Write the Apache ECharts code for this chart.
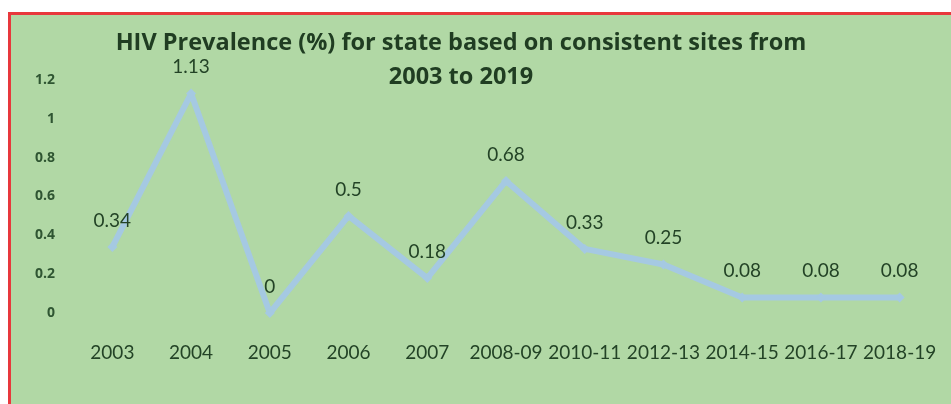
<!DOCTYPE html>
<html>
<head>
<meta charset="utf-8">
<script src="https://cdn.jsdelivr.net/npm/echarts@6/dist/echarts.min.js"></script>
<style>
html,body{margin:0;padding:0;background:#fff;}
#c{width:951px;height:404px;}
</style>
</head>
<body>
<div id="c"></div>
<script>
var categories = ['2003','2004','2005','2006','2007','2008-09','2010-11','2012-13','2014-15','2016-17','2018-19'];
var prevalence = [0.34, 1.13, 0, 0.5, 0.18, 0.68, 0.33, 0.25, 0.08, 0.08, 0.08];
var titleLines = ['HIV Prevalence (%) for state based on consistent sites from', '2003 to 2019'];

var chart = echarts.init(document.getElementById('c'));
chart.setOption({
  backgroundColor: '#ffffff',
  animation: false,
  graphic: [
    {type:'rect', z:-10, shape:{x:10, y:14.5, width:941, height:390}, style:{fill:'#b1d8a5'}},
    {type:'rect', z:-9, shape:{x:8, y:12, width:943, height:3}, style:{fill:'#e8383c'}},
    {type:'rect', z:-9, shape:{x:8, y:12, width:3, height:392}, style:{fill:'#e8383c'}}
  ],
  title: {
    text: titleLines.join('\n'),
    left: 461,
    top: 26,
    padding: 0,
    textAlign: 'center',
    textStyle: {
      fontFamily: 'Open Sans',
      fontSize: 23.5,
      fontWeight: 'bold',
      color: '#203d22',
      lineHeight: 34
    }
  },
  grid: {left: 73, right: 12, top: 80, bottom: 91},
  xAxis: {
    type: 'category',
    data: categories,
    boundaryGap: true,
    axisLine: {show: false},
    axisTick: {show: false},
    axisLabel: {
      margin: 30,
      fontFamily: 'Lato',
      fontSize: 19,
      color: '#234326',
      interval: 0
    }
  },
  yAxis: {
    type: 'value',
    min: 0,
    max: 1.2,
    interval: 0.2,
    splitLine: {show: false},
    axisLine: {show: false},
    axisTick: {show: false},
    axisLabel: {
      margin: 18,
      fontFamily: 'Open Sans',
      fontSize: 14,
      fontWeight: 'bold',
      color: '#2f5532'
    }
  },
  series: [{
    type: 'line',
    data: prevalence,
    symbol: 'diamond',
    symbolSize: 10,
    lineStyle: {color: '#a5c9e2', width: 6},
    itemStyle: {color: '#a5c9e2'},
    label: {
      show: true,
      position: 'top',
      distance: 12,
      fontFamily: 'Lato',
      fontSize: 19,
      color: '#234326'
    }
  }]
});
</script>
</body>
</html>
